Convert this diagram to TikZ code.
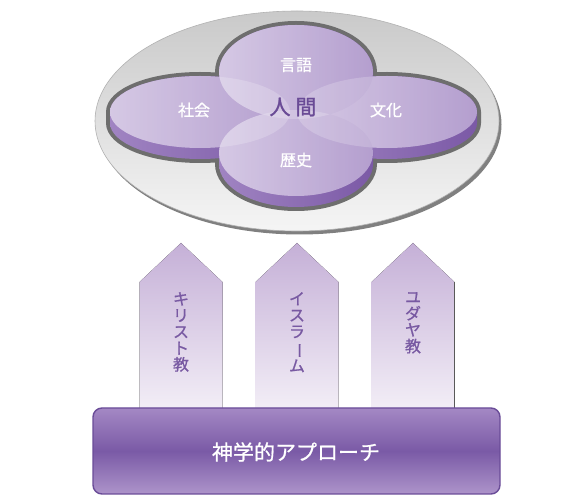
\documentclass[tikz,border=0pt]{standalone}
\usepackage{fontspec}
\setmainfont{Noto Sans CJK JP}
\newfontfamily\medfont[FakeBold=0.8]{Noto Sans CJK JP}
\newfontfamily\hubfont[FakeBold=1.4]{Noto Sans CJK JP}
\usepackage{graphicx}
\definecolor{lobeL}{HTML}{CBBBDE}
\definecolor{lobeR}{HTML}{A287C3}
\definecolor{sideL}{HTML}{A084C2}
\definecolor{sideR}{HTML}{7B59A6}
\definecolor{rimgray}{HTML}{6E6E6E}
\definecolor{arrtop}{HTML}{C5B0D7}
\definecolor{arrbot}{HTML}{F2EDF6}
\definecolor{bartop}{HTML}{A488C4}
\definecolor{barmid}{HTML}{7A5AA6}
\definecolor{barline}{HTML}{6A4C98}
\definecolor{arrtext}{HTML}{7859A2}
\definecolor{hubtext}{HTML}{6A4B96}
\newcommand\lobeext[4]{({#1-#3},#2) arc[start angle=180,end angle=0,x radius=#3,y radius=#4] -- ({#1+#3},{#2-11}) arc[start angle=0,end angle=-180,x radius=#3,y radius=#4] -- cycle}
\newcommand\lobetop[4]{(#1,#2) ellipse[x radius=#3,y radius=#4]}
\tikzset{
  lobetxt/.style={text=white,font=\medfont\fontsize{16}{16}\selectfont},
  arrtxt/.style={text=arrtext,font=\medfont\fontsize{16}{16.4}\selectfont,align=center,anchor=north,inner sep=0pt},
  arrowshape/.style={top color=arrtop,bottom color=arrbot,draw=none},
}
\begin{document}
\begin{tikzpicture}[x=1pt,y=1pt]
\useasboundingbox (0,0) rectangle (571,501);
\fill[white] (0,0) rectangle (571,501);
% platter
\fill[black!50] (299.5,376.5) ellipse[x radius=202,y radius=110];
\shade[top color=black!21,bottom color=black!4,draw=black!30,line width=0.6] (297,380) ellipse[x radius=202,y radius=110];
% lobe borders
\foreach \cx/\cy/\rx/\ry in {200/389/90/36,387/389/90/36,296/429/77/47,296/348/77/43}{
  \draw[rimgray,line width=8] \lobeext{\cx}{\cy}{\rx}{\ry};
}
% sides
\foreach \cx/\cy/\rx/\ry in {200/389/90/36,387/389/90/36,296/429/77/47,296/348/77/43}{
  \shade[left color=sideL,right color=sideR] \lobeext{\cx}{\cy}{\rx}{\ry};
}
% top faces
\foreach \cx/\cy/\rx/\ry in {200/389/90/36,387/389/90/36,296/429/77/47,296/348/77/43}{
  \shade[left color=lobeL,right color=lobeR] \lobetop{\cx}{\cy}{\rx}{\ry};
}
\foreach \cx/\cy/\rx/\ry in {200/389/90/36,387/389/90/36,296/429/77/47,296/348/77/43}{
  \fill[white,fill opacity=0.2] \lobetop{\cx}{\cy}{\rx}{\ry};
}
% lobe labels
\node[lobetxt] (gengo) at (296,436) {言語};
\node[lobetxt] (shakai) at (194,391) {社会};
\node[lobetxt] (bunka) at (386,391) {文化};
\node[lobetxt] (rekishi) at (296,341) {歴史};
\node[text=hubtext,font=\hubfont\fontsize{21}{21}\selectfont] (ningen) at (293,394) {人\hspace{5pt}間};
% arrows
\foreach \x in {181,297,413}{
  \fill[arrowshape] ({\x-41.5},93) -- ({\x-41.5},219) -- (\x,258) -- ({\x+41.5},219) -- ({\x+41.5},93) -- cycle;
}
\node[arrtxt] (kirisuto) at (181,209) {キ\\リ\\ス\\ト\\教};
\node[arrtxt] (isuramu) at (297,209) {イ\\ス\\ラ\\\rotatebox[origin=c]{-90}{ー}\\ム};
\node[arrtxt] (yudaya) at (413,209) {ユ\\ダ\\ヤ\\教};
% bar
\shade[rounded corners=9pt,top color=bartop,bottom color=bartop!90!white,middle color=barmid,draw=barline,line width=1.4] (93,7) rectangle (500,93);
\node[text=white,font=\medfont\fontsize{21}{21}\selectfont] (shingaku) at (296,49) {神学的アプローチ};
\end{tikzpicture}
\end{document}
